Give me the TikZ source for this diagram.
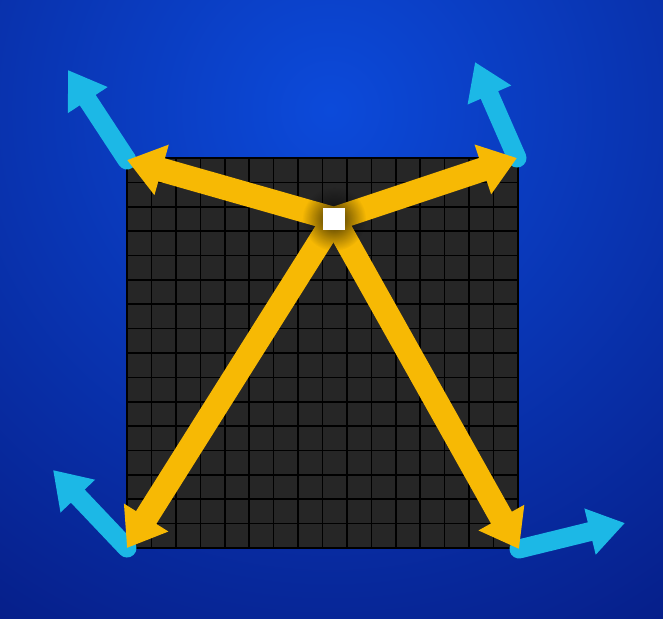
\documentclass[tikz,border=0pt]{standalone}
\usetikzlibrary{arrows.meta,fadings}
\definecolor{bgtop}{HTML}{0C4ADA}
\definecolor{bgbot}{HTML}{04106E}
\definecolor{cellc}{HTML}{262626}
\definecolor{yel}{HTML}{F7B904}
\definecolor{cya}{HTML}{1CB8E6}
\tikzfading[name=myfade, inner color=transparent!0, outer color=transparent!100]
\tikzset{
  yarrow/.style={yel, line width=24pt, -{Triangle[width=50pt,length=36pt]}},
  carrow/.style={cya, line width=19pt, line cap=round, -{Triangle[width=45pt,length=36pt]}},
}
\begin{document}
\begin{tikzpicture}[x=1pt,y=-1pt]
\useasboundingbox (0,0) rectangle (663,618);
\begin{scope}
\clip (0,0) rectangle (663,618);
\fill[bgbot] (0,0) rectangle (663,618);
\shade[inner color=bgtop, outer color=bgbot] (330,110) circle (820);
\end{scope}
% grid
\fill[cellc] (127,158) rectangle (518,548);
\foreach \i in {0,...,16} {
  \draw[black, line width=1.6pt] ({127+\i*391/16},158) -- ({127+\i*391/16},548);
  \draw[black, line width=1.6pt] (127,{158+\i*390/16}) -- (518,{158+\i*390/16});
}
% points
\coordinate (c) at (334,219);
\coordinate (tl) at (127,160);
\coordinate (tr) at (517,158);
\coordinate (bl) at (127,548);
\coordinate (br) at (519,549);
\coordinate (tlo) at (68,70);
\coordinate (tro) at (475,62);
\coordinate (blo) at (53,470);
\coordinate (bro) at (625,523);
% cyan arrows
\draw[carrow] (tl) -- (tlo);
\draw[carrow] (tr) -- (tro);
\draw[carrow] (bl) -- (blo);
\draw[carrow] (br) -- (bro);
% yellow arrows
\draw[yarrow] (c) -- (tl);
\draw[yarrow] (c) -- (tr);
\draw[yarrow] (c) -- (bl);
\draw[yarrow] (c) -- (br);
% shadow around centre
\fill[black, opacity=0.75, path fading=myfade] (c) circle (32);
\node[fill=white, minimum size=22pt, inner sep=0pt, draw=none] (sq) at (c) {};
\end{tikzpicture}
\end{document}
